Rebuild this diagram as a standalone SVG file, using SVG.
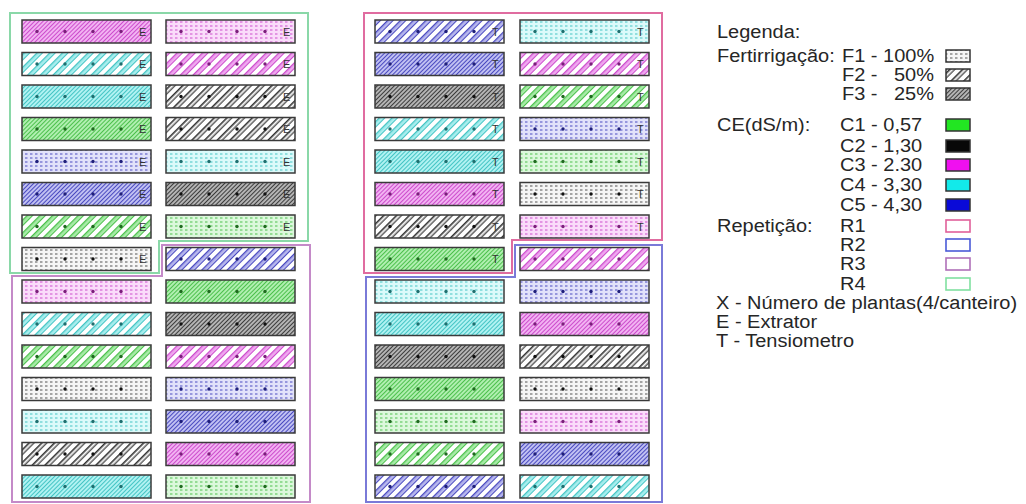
<svg xmlns="http://www.w3.org/2000/svg" width="1026" height="504" viewBox="0 0 1026 504">
<style>
.plot rect{stroke:#3a3a3a;stroke-width:1.5}
.lbl{font-family:"Liberation Sans",Arial,sans-serif;font-size:11px;fill:#333}
.lg{font-family:"Liberation Sans",Arial,sans-serif;font-size:20px;fill:#262626}
.bd{fill:none;stroke-width:2}
.dg{fill:#1f6a1f}.dk{fill:#111}.dm{fill:#7a1f7a}.dc{fill:#1f6f6f}.db{fill:#1f1f7a}
.box{stroke:#333;stroke-width:1.5}
.rbox{fill:#fff;stroke-width:1.6}
</style>
<defs>
<g id="pts"><circle cx="15" cy="11.5" r="1.7"/><circle cx="43" cy="11.5" r="1.7"/><circle cx="71" cy="11.5" r="1.7"/><circle cx="99" cy="11.5" r="1.7"/></g>
<pattern id="g1" width="5" height="4" patternUnits="userSpaceOnUse"><rect width="5" height="4" fill="#dcf8dc"/><rect y="1.5" width="2.5" height="1" fill="#4cc04c"/></pattern>
<pattern id="k1" width="5" height="4" patternUnits="userSpaceOnUse"><rect width="5" height="4" fill="#f6f6f6"/><rect y="1.5" width="2.5" height="1" fill="#555"/></pattern>
<pattern id="m1" width="5" height="4" patternUnits="userSpaceOnUse"><rect width="5" height="4" fill="#fadcfa"/><rect y="1.5" width="2.5" height="1" fill="#cc4ccc"/></pattern>
<pattern id="c1" width="5" height="4" patternUnits="userSpaceOnUse"><rect width="5" height="4" fill="#dcfafa"/><rect y="1.5" width="2.5" height="1" fill="#44c4c4"/></pattern>
<pattern id="b1" width="5" height="4" patternUnits="userSpaceOnUse"><rect width="5" height="4" fill="#e2e2fa"/><rect y="1.5" width="2.5" height="1" fill="#4a4ac0"/></pattern>
<pattern id="g2" width="9" height="9" patternUnits="userSpaceOnUse" patternTransform="rotate(45)"><rect width="9" height="9" fill="#fff"/><rect width="4.5" height="9" fill="#a8eca8"/><rect width="1.3" height="9" fill="#4cc04c"/><rect x="4" width="1" height="9" fill="#4cc04c"/></pattern>
<pattern id="k2" width="9" height="9" patternUnits="userSpaceOnUse" patternTransform="rotate(45)"><rect width="9" height="9" fill="#fff"/><rect width="1.6" height="9" fill="#333"/><rect x="3.6" width="1.2" height="9" fill="#333"/></pattern>
<pattern id="m2" width="9" height="9" patternUnits="userSpaceOnUse" patternTransform="rotate(45)"><rect width="9" height="9" fill="#fff"/><rect width="4.5" height="9" fill="#f0a8f0"/><rect width="1.3" height="9" fill="#cc4ccc"/><rect x="4" width="1" height="9" fill="#cc4ccc"/></pattern>
<pattern id="c2" width="9" height="9" patternUnits="userSpaceOnUse" patternTransform="rotate(45)"><rect width="9" height="9" fill="#fff"/><rect width="4.5" height="9" fill="#a8eeee"/><rect width="1.3" height="9" fill="#44c4c4"/><rect x="4" width="1" height="9" fill="#44c4c4"/></pattern>
<pattern id="b2" width="9" height="9" patternUnits="userSpaceOnUse" patternTransform="rotate(45)"><rect width="9" height="9" fill="#fff"/><rect width="4.5" height="9" fill="#b8b8ee"/><rect width="1.3" height="9" fill="#4a4ac0"/><rect x="4" width="1" height="9" fill="#4a4ac0"/></pattern>
<pattern id="g3" width="3" height="3" patternUnits="userSpaceOnUse" patternTransform="rotate(45)"><rect width="3" height="3" fill="#b0efb0"/><rect width="1" height="3" fill="#4cc04c"/></pattern>
<pattern id="k3" width="3" height="3" patternUnits="userSpaceOnUse" patternTransform="rotate(45)"><rect width="3" height="3" fill="#b4b4b4"/><rect width="1" height="3" fill="#3c3c3c"/></pattern>
<pattern id="m3" width="3" height="3" patternUnits="userSpaceOnUse" patternTransform="rotate(45)"><rect width="3" height="3" fill="#f2b2f2"/><rect width="1" height="3" fill="#cc4ccc"/></pattern>
<pattern id="c3" width="3" height="3" patternUnits="userSpaceOnUse" patternTransform="rotate(45)"><rect width="3" height="3" fill="#b0f2f2"/><rect width="1" height="3" fill="#44c4c4"/></pattern>
<pattern id="b3" width="3" height="3" patternUnits="userSpaceOnUse" patternTransform="rotate(45)"><rect width="3" height="3" fill="#c0c0f2"/><rect width="1" height="3" fill="#4a4ac0"/></pattern>
</defs>
<rect width="1026" height="504" fill="#fff"/>

<g id="boundaries">
<polygon id="R4" class="bd" stroke="#8ad8a8" points="10,13 308,13 308,241 159,241 159,273 10,273"/>
<polygon id="R3" class="bd" stroke="#c48ac8" points="12,276 162,276 162,245 310,245 310,502 12,502"/>
<polygon id="R1" class="bd" stroke="#e06ca0" points="364,13 662,13 662,240 512,240 512,273 364,273"/>
<polygon id="R2" class="bd" stroke="#7a7ad8" points="366,277 515,277 515,245 662,245 662,502 366,502"/>
</g>

<g id="A01" class="plot"><rect x="22" y="20" width="129" height="23" fill="url(#m3)"/><use href="#pts" x="22" y="20" class="dm"/><text class="lbl" x="139" y="35.5">E</text></g>
<g id="A02" class="plot"><rect x="22" y="52.5" width="129" height="23" fill="url(#c2)"/><use href="#pts" x="22" y="52.5" class="dc"/><text class="lbl" x="139" y="68">E</text></g>
<g id="A03" class="plot"><rect x="22" y="85" width="129" height="23" fill="url(#c3)"/><use href="#pts" x="22" y="85" class="dc"/><text class="lbl" x="139" y="100.5">E</text></g>
<g id="A04" class="plot"><rect x="22" y="117.5" width="129" height="23" fill="url(#g3)"/><use href="#pts" x="22" y="117.5" class="dg"/><text class="lbl" x="139" y="133">E</text></g>
<g id="A05" class="plot"><rect x="22" y="150" width="129" height="23" fill="url(#b1)"/><use href="#pts" x="22" y="150" class="db"/><text class="lbl" x="139" y="165.5">E</text></g>
<g id="A06" class="plot"><rect x="22" y="182.5" width="129" height="23" fill="url(#b3)"/><use href="#pts" x="22" y="182.5" class="db"/><text class="lbl" x="139" y="198">E</text></g>
<g id="A07" class="plot"><rect x="22" y="215" width="129" height="23" fill="url(#g2)"/><use href="#pts" x="22" y="215" class="dg"/><text class="lbl" x="139" y="230.5">E</text></g>
<g id="A08" class="plot"><rect x="22" y="247.5" width="129" height="23" fill="url(#k1)"/><use href="#pts" x="22" y="247.5" class="dk"/><text class="lbl" x="139" y="263">E</text></g>
<g id="A09" class="plot"><rect x="22" y="280" width="129" height="23" fill="url(#m1)"/><use href="#pts" x="22" y="280" class="dm"/></g>
<g id="A10" class="plot"><rect x="22" y="312.5" width="129" height="23" fill="url(#c2)"/><use href="#pts" x="22" y="312.5" class="dc"/></g>
<g id="A11" class="plot"><rect x="22" y="345" width="129" height="23" fill="url(#g2)"/><use href="#pts" x="22" y="345" class="dg"/></g>
<g id="A12" class="plot"><rect x="22" y="377.5" width="129" height="23" fill="url(#k1)"/><use href="#pts" x="22" y="377.5" class="dk"/></g>
<g id="A13" class="plot"><rect x="22" y="410" width="129" height="23" fill="url(#c1)"/><use href="#pts" x="22" y="410" class="dc"/></g>
<g id="A14" class="plot"><rect x="22" y="442.5" width="129" height="23" fill="url(#k2)"/><use href="#pts" x="22" y="442.5" class="dk"/></g>
<g id="A15" class="plot"><rect x="22" y="475" width="129" height="23" fill="url(#c3)"/><use href="#pts" x="22" y="475" class="dc"/></g>

<g id="B01" class="plot"><rect x="166" y="20" width="129" height="23" fill="url(#m1)"/><use href="#pts" x="166" y="20" class="dm"/><text class="lbl" x="283" y="35.5">E</text></g>
<g id="B02" class="plot"><rect x="166" y="52.5" width="129" height="23" fill="url(#m2)"/><use href="#pts" x="166" y="52.5" class="dm"/><text class="lbl" x="283" y="68">E</text></g>
<g id="B03" class="plot"><rect x="166" y="85" width="129" height="23" fill="url(#k2)"/><use href="#pts" x="166" y="85" class="dk"/><text class="lbl" x="283" y="100.5">E</text></g>
<g id="B04" class="plot"><rect x="166" y="117.5" width="129" height="23" fill="url(#k2)"/><use href="#pts" x="166" y="117.5" class="dk"/><text class="lbl" x="283" y="133">E</text></g>
<g id="B05" class="plot"><rect x="166" y="150" width="129" height="23" fill="url(#c1)"/><use href="#pts" x="166" y="150" class="dc"/><text class="lbl" x="283" y="165.5">E</text></g>
<g id="B06" class="plot"><rect x="166" y="182.5" width="129" height="23" fill="url(#k3)"/><use href="#pts" x="166" y="182.5" class="dk"/><text class="lbl" x="283" y="198">E</text></g>
<g id="B07" class="plot"><rect x="166" y="215" width="129" height="23" fill="url(#g1)"/><use href="#pts" x="166" y="215" class="dg"/><text class="lbl" x="283" y="230.5">E</text></g>
<g id="B08" class="plot"><rect x="166" y="247.5" width="129" height="23" fill="url(#b2)"/><use href="#pts" x="166" y="247.5" class="db"/></g>
<g id="B09" class="plot"><rect x="166" y="280" width="129" height="23" fill="url(#g3)"/><use href="#pts" x="166" y="280" class="dg"/></g>
<g id="B10" class="plot"><rect x="166" y="312.5" width="129" height="23" fill="url(#k3)"/><use href="#pts" x="166" y="312.5" class="dk"/></g>
<g id="B11" class="plot"><rect x="166" y="345" width="129" height="23" fill="url(#m2)"/><use href="#pts" x="166" y="345" class="dm"/></g>
<g id="B12" class="plot"><rect x="166" y="377.5" width="129" height="23" fill="url(#b1)"/><use href="#pts" x="166" y="377.5" class="db"/></g>
<g id="B13" class="plot"><rect x="166" y="410" width="129" height="23" fill="url(#b3)"/><use href="#pts" x="166" y="410" class="db"/></g>
<g id="B14" class="plot"><rect x="166" y="442.5" width="129" height="23" fill="url(#m3)"/><use href="#pts" x="166" y="442.5" class="dm"/></g>
<g id="B15" class="plot"><rect x="166" y="475" width="129" height="23" fill="url(#g1)"/><use href="#pts" x="166" y="475" class="dg"/></g>

<g id="C01" class="plot"><rect x="375" y="20" width="129" height="23" fill="url(#b2)"/><use href="#pts" x="375" y="20" class="db"/><text class="lbl" x="492" y="35.5">T</text></g>
<g id="C02" class="plot"><rect x="375" y="52.5" width="129" height="23" fill="url(#b3)"/><use href="#pts" x="375" y="52.5" class="db"/><text class="lbl" x="492" y="68">T</text></g>
<g id="C03" class="plot"><rect x="375" y="85" width="129" height="23" fill="url(#k3)"/><use href="#pts" x="375" y="85" class="dk"/><text class="lbl" x="492" y="100.5">T</text></g>
<g id="C04" class="plot"><rect x="375" y="117.5" width="129" height="23" fill="url(#c2)"/><use href="#pts" x="375" y="117.5" class="dc"/><text class="lbl" x="492" y="133">T</text></g>
<g id="C05" class="plot"><rect x="375" y="150" width="129" height="23" fill="url(#c3)"/><use href="#pts" x="375" y="150" class="dc"/><text class="lbl" x="492" y="165.5">T</text></g>
<g id="C06" class="plot"><rect x="375" y="182.5" width="129" height="23" fill="url(#m3)"/><use href="#pts" x="375" y="182.5" class="dm"/><text class="lbl" x="492" y="198">T</text></g>
<g id="C07" class="plot"><rect x="375" y="215" width="129" height="23" fill="url(#k2)"/><use href="#pts" x="375" y="215" class="dk"/><text class="lbl" x="492" y="230.5">T</text></g>
<g id="C08" class="plot"><rect x="375" y="247.5" width="129" height="23" fill="url(#g3)"/><use href="#pts" x="375" y="247.5" class="dg"/><text class="lbl" x="492" y="263">T</text></g>
<g id="C09" class="plot"><rect x="375" y="280" width="129" height="23" fill="url(#c1)"/><use href="#pts" x="375" y="280" class="dc"/></g>
<g id="C10" class="plot"><rect x="375" y="312.5" width="129" height="23" fill="url(#c3)"/><use href="#pts" x="375" y="312.5" class="dc"/></g>
<g id="C11" class="plot"><rect x="375" y="345" width="129" height="23" fill="url(#k3)"/><use href="#pts" x="375" y="345" class="dk"/></g>
<g id="C12" class="plot"><rect x="375" y="377.5" width="129" height="23" fill="url(#g3)"/><use href="#pts" x="375" y="377.5" class="dg"/></g>
<g id="C13" class="plot"><rect x="375" y="410" width="129" height="23" fill="url(#g1)"/><use href="#pts" x="375" y="410" class="dg"/></g>
<g id="C14" class="plot"><rect x="375" y="442.5" width="129" height="23" fill="url(#g2)"/><use href="#pts" x="375" y="442.5" class="dg"/></g>
<g id="C15" class="plot"><rect x="375" y="475" width="129" height="23" fill="url(#b2)"/><use href="#pts" x="375" y="475" class="db"/></g>

<g id="D01" class="plot"><rect x="520" y="20" width="129" height="23" fill="url(#c1)"/><use href="#pts" x="520" y="20" class="dc"/><text class="lbl" x="637" y="35.5">T</text></g>
<g id="D02" class="plot"><rect x="520" y="52.5" width="129" height="23" fill="url(#m2)"/><use href="#pts" x="520" y="52.5" class="dm"/><text class="lbl" x="637" y="68">T</text></g>
<g id="D03" class="plot"><rect x="520" y="85" width="129" height="23" fill="url(#g2)"/><use href="#pts" x="520" y="85" class="dg"/><text class="lbl" x="637" y="100.5">T</text></g>
<g id="D04" class="plot"><rect x="520" y="117.5" width="129" height="23" fill="url(#b1)"/><use href="#pts" x="520" y="117.5" class="db"/><text class="lbl" x="637" y="133">T</text></g>
<g id="D05" class="plot"><rect x="520" y="150" width="129" height="23" fill="url(#g1)"/><use href="#pts" x="520" y="150" class="dg"/><text class="lbl" x="637" y="165.5">T</text></g>
<g id="D06" class="plot"><rect x="520" y="182.5" width="129" height="23" fill="url(#k1)"/><use href="#pts" x="520" y="182.5" class="dk"/><text class="lbl" x="637" y="198">T</text></g>
<g id="D07" class="plot"><rect x="520" y="215" width="129" height="23" fill="url(#m1)"/><use href="#pts" x="520" y="215" class="dm"/><text class="lbl" x="637" y="230.5">T</text></g>
<g id="D08" class="plot"><rect x="520" y="247.5" width="129" height="23" fill="url(#m2)"/><use href="#pts" x="520" y="247.5" class="dm"/></g>
<g id="D09" class="plot"><rect x="520" y="280" width="129" height="23" fill="url(#b1)"/><use href="#pts" x="520" y="280" class="db"/></g>
<g id="D10" class="plot"><rect x="520" y="312.5" width="129" height="23" fill="url(#m3)"/><use href="#pts" x="520" y="312.5" class="dm"/></g>
<g id="D11" class="plot"><rect x="520" y="345" width="129" height="23" fill="url(#k2)"/><use href="#pts" x="520" y="345" class="dk"/></g>
<g id="D12" class="plot"><rect x="520" y="377.5" width="129" height="23" fill="url(#k1)"/><use href="#pts" x="520" y="377.5" class="dk"/></g>
<g id="D13" class="plot"><rect x="520" y="410" width="129" height="23" fill="url(#m1)"/><use href="#pts" x="520" y="410" class="dm"/></g>
<g id="D14" class="plot"><rect x="520" y="442.5" width="129" height="23" fill="url(#b3)"/><use href="#pts" x="520" y="442.5" class="db"/></g>
<g id="D15" class="plot"><rect x="520" y="475" width="129" height="23" fill="url(#c2)"/><use href="#pts" x="520" y="475" class="dc"/></g>

<g id="legend">
<rect class="box" x="946" y="50" width="24" height="12" fill="url(#k1)"/>
<rect class="box" x="946" y="69" width="24" height="12" fill="url(#k2)"/>
<rect class="box" x="946" y="88" width="24" height="12" fill="url(#k3)"/>
<rect class="box" x="946" y="119" width="24" height="12" fill="#22e622"/>
<rect class="box" x="946" y="140" width="24" height="12" fill="#080808"/>
<rect class="box" x="946" y="159" width="24" height="12" fill="#f010f0"/>
<rect class="box" x="946" y="179" width="24" height="12" fill="#12eaea"/>
<rect class="box" x="946" y="199" width="24" height="12" fill="#0a0ad8"/>
<rect class="rbox" x="946" y="220" width="24" height="12" stroke="#e0609a"/>
<rect class="rbox" x="946" y="239" width="24" height="12" stroke="#4a5ad8"/>
<rect class="rbox" x="946" y="258" width="24" height="12" stroke="#b070b8"/>
<rect class="rbox" x="946" y="278" width="24" height="12" stroke="#80e0a0"/>
<g transform="scale(1,0.88)">
<text class="lg" x="717" y="43.2">Legenda:</text>
<text class="lg" x="717" y="70.5">Fertirrigação:</text>
<text class="lg" x="842" y="70.5">F1 - 100%</text>
<text class="lg" x="842" y="92">F2 - <tspan x="894">50%</tspan></text>
<text class="lg" x="842" y="113.6">F3 - <tspan x="894">25%</tspan></text>
<text class="lg" x="717" y="148.9">CE(dS/m):</text>
<text class="lg" x="840" y="148.9">C1 - 0,57</text>
<text class="lg" x="840" y="172.7">C2 - 1,30</text>
<text class="lg" x="840" y="194.3">C3 - 2.30</text>
<text class="lg" x="840" y="217">C4 - 3,30</text>
<text class="lg" x="840" y="239.8">C5 - 4,30</text>
<text class="lg" x="717" y="263.6">Repetição:</text>
<text class="lg" x="840" y="263.6">R1</text>
<text class="lg" x="840" y="285.2">R2</text>
<text class="lg" x="840" y="306.8">R3</text>
<text class="lg" x="840" y="329.5">R4</text>
<text class="lg" x="716" y="351.1">X - Número de plantas(4/canteiro)</text>
<text class="lg" x="716" y="372.7">E - Extrator</text>
<text class="lg" x="716" y="394.3">T - Tensiometro</text>
</g>
</g>
</svg>
